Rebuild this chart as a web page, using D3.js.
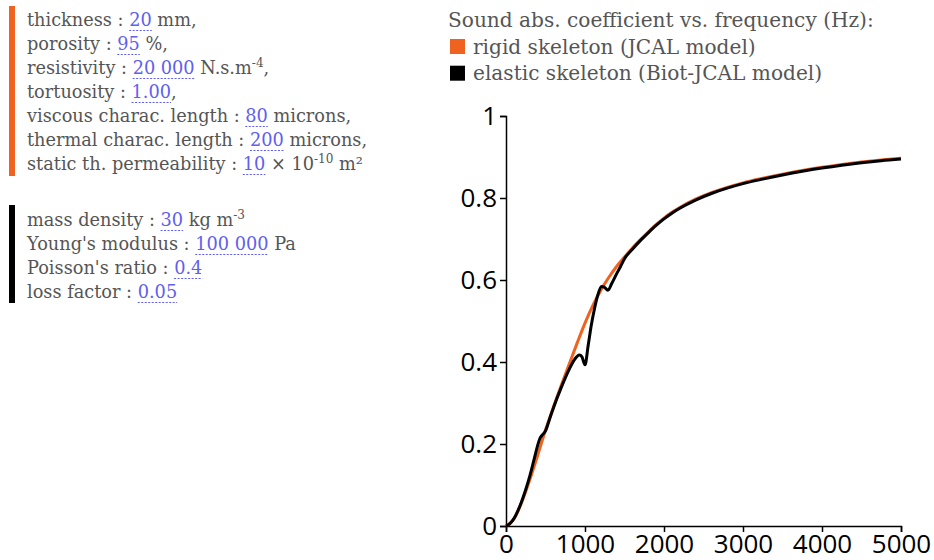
<!DOCTYPE html>
<html>
<head>
<meta charset="utf-8">
<script src="https://cdn.jsdelivr.net/npm/d3@7"></script>
<style>
  html, body { margin: 0; padding: 0; background: #fff; }
  svg { display: block; }
  .serif { font-family: "DejaVu Serif", "Liberation Serif", serif; white-space: pre; }
  .axis text { font-family: "Open Sans", "Noto Sans", sans-serif; font-size: 26px; fill: #000; }
</style>
</head>
<body>
<svg id="chart" width="934" height="560"></svg>
<script>
// ---------- data ----------
const freqRigid = [0, 100, 200, 300, 400, 500, 600, 700, 800, 900, 1000, 1100, 1200, 1300, 1400, 1500,
  1600, 1700, 1800, 1900, 2000, 2100, 2200, 2400, 2600, 2800, 3000, 3250, 3500, 3750, 4000, 4250, 4500, 4750, 5000];
const alphaRigid = [0, 0.017, 0.058, 0.112, 0.172, 0.234, 0.29, 0.343, 0.395, 0.446, 0.495, 0.538, 0.575, 0.606, 0.633, 0.656,
  0.678, 0.698, 0.717, 0.735, 0.751, 0.765, 0.777, 0.797, 0.813, 0.826, 0.837, 0.848, 0.858, 0.867, 0.875, 0.882, 0.888, 0.893, 0.897];

const freqElastic = [0, 50, 100, 150, 200, 250, 300, 350, 400, 430, 460, 500, 550, 600, 700, 800, 860, 930, 960, 1000,
  1040, 1080, 1120, 1160, 1210, 1240, 1290, 1340, 1400, 1450, 1500, 1600, 1700, 1800, 1900, 2000, 2100, 2200, 2400, 2600,
  2800, 3000, 3250, 3500, 3750, 4000, 4250, 4500, 4750, 5000];
const alphaElastic = [0, 0.006, 0.018, 0.037, 0.061, 0.089, 0.121, 0.158, 0.196, 0.214, 0.222, 0.232, 0.26, 0.288, 0.338, 0.382, 0.404, 0.417, 0.413, 0.393,
  0.44, 0.49, 0.53, 0.562, 0.584, 0.583, 0.575, 0.592, 0.615, 0.633, 0.652, 0.675, 0.696, 0.715, 0.733, 0.749, 0.763, 0.775, 0.795, 0.811,
  0.824, 0.835, 0.846, 0.856, 0.865, 0.873, 0.88, 0.886, 0.891, 0.895];

const xTicks = [0, 1000, 2000, 3000, 4000, 5000];
const yTicks = [0, 0.2, 0.4, 0.6, 0.8, 1];

const legendTitle = "Sound abs. coefficient vs. frequency (Hz):";
const legendLabels = ["rigid skeleton (JCAL model)", "elastic skeleton (Biot-JCAL model)"];
const seriesColors = ["#f0621f", "#000000"];

// parameter lines: [label, value, unit pieces]; "^" marks superscript
const rigidParams = [
  ["thickness : ", "20", [[" mm,", ""]]],
  ["porosity : ", "95", [[" %,", ""]]],
  ["resistivity : ", "20 000", [[" N.s.m", ""], ["-4", "^"], [",", ""]]],
  ["tortuosity : ", "1.00", [[",", ""]]],
  ["viscous charac. length : ", "80", [[" microns,", ""]]],
  ["thermal charac. length : ", "200", [[" microns,", ""]]],
  ["static th. permeability : ", "10", [[" × 10", ""], ["-10", "^"], [" m²", ""]]]
];
const elasticParams = [
  ["mass density : ", "30", [[" kg m", ""], ["-3", "^"]]],
  ["Young's modulus : ", "100 000", [[" Pa", ""]]],
  ["Poisson's ratio : ", "0.4", []],
  ["loss factor : ", "0.05", []]
];

// ---------- drawing ----------
const svg = d3.select("#chart");
const textColor = "#555";
const valueColor = "#5f5ff0";

// measure helper to size the serif text to the reference line widths
function measure(str, size) {
  const t = svg.append("text").attr("class", "serif").attr("font-size", size).text(str);
  const w = t.node().getComputedTextLength();
  t.remove();
  return w;
}
const fs = 18 * 336 / measure("static th. permeability : 10 × 10", 18) * (measure("static th. permeability : 10 × 10", 18) / (measure("static th. permeability : 10 × 10", 18) + measure("-10", 18 * 0.68) + measure(" m²", 18)));
const lfs = 20 * 426 / measure(legendTitle, 20);

function drawParams(params, top, barColor, barTop, barBottom) {
  svg.append("rect").attr("x", 9).attr("y", barTop).attr("width", 6)
    .attr("height", barBottom - barTop).attr("fill", barColor);
  params.forEach((p, i) => {
    const y = top + i * 24;
    let x = 27;
    const t1 = svg.append("text").attr("class", "serif").attr("x", x).attr("y", y)
      .attr("font-size", fs).attr("fill", textColor).text(p[0]);
    x += t1.node().getComputedTextLength();
    const t2 = svg.append("text").attr("class", "serif").attr("x", x).attr("y", y)
      .attr("font-size", fs).attr("fill", valueColor).text(p[1]);
    const w = t2.node().getComputedTextLength();
    svg.append("line").attr("x1", x).attr("x2", x + w).attr("y1", y + 5).attr("y2", y + 5)
      .attr("stroke", valueColor).attr("stroke-width", 1).attr("stroke-dasharray", "2,1.5");
    x += w;
    p[2].forEach(([s, kind]) => {
      const sup = kind === "^";
      const t = svg.append("text").attr("class", "serif").attr("x", x).attr("y", sup ? y - 7 : y)
        .attr("font-size", sup ? fs * 0.68 : fs).attr("fill", textColor).text(s);
      x += t.node().getComputedTextLength();
    });
  });
}
drawParams(rigidParams, 25.5, seriesColors[0], 6, 176);
drawParams(elasticParams, 225.5, "#000", 205, 303);

// legend
svg.append("text").attr("class", "serif").attr("x", 448).attr("y", 27)
  .attr("font-size", lfs).attr("fill", textColor).text(legendTitle);
legendLabels.forEach((lab, i) => {
  const y = 53.5 + i * 26.7;
  svg.append("rect").attr("x", 450).attr("y", y - 14.5).attr("width", 15).attr("height", 15)
    .attr("fill", seriesColors[i]);
  svg.append("text").attr("class", "serif").attr("x", 473).attr("y", y)
    .attr("font-size", lfs).attr("fill", textColor).text(lab);
});

// chart
const x = d3.scaleLinear().domain([0, 5000]).range([506, 901]);
const y = d3.scaleLinear().domain([0, 1]).range([526, 116]);

svg.append("g").attr("class", "axis").attr("transform", "translate(0,526)")
  .call(d3.axisBottom(x).tickValues(xTicks).tickFormat(d3.format("d")).tickSize(6).tickPadding(3));
svg.append("g").attr("class", "axis").attr("transform", "translate(506,0)")
  .call(d3.axisLeft(y).tickValues(yTicks).tickFormat(d => String(d)).tickSize(6).tickPadding(3));
svg.selectAll(".axis path, .axis line").attr("stroke", "#000").attr("stroke-width", 1.5);

const line = d3.line().x(d => x(d[0])).y(d => y(d[1])).curve(d3.curveMonotoneX);
svg.append("path").datum(d3.zip(freqRigid, alphaRigid)).attr("d", line)
  .attr("fill", "none").attr("stroke", seriesColors[0]).attr("stroke-width", 3);
svg.append("path").datum(d3.zip(freqElastic, alphaElastic)).attr("d", line)
  .attr("fill", "none").attr("stroke", seriesColors[1]).attr("stroke-width", 3)
  .attr("stroke-linejoin", "round");
</script>
</body>
</html>
